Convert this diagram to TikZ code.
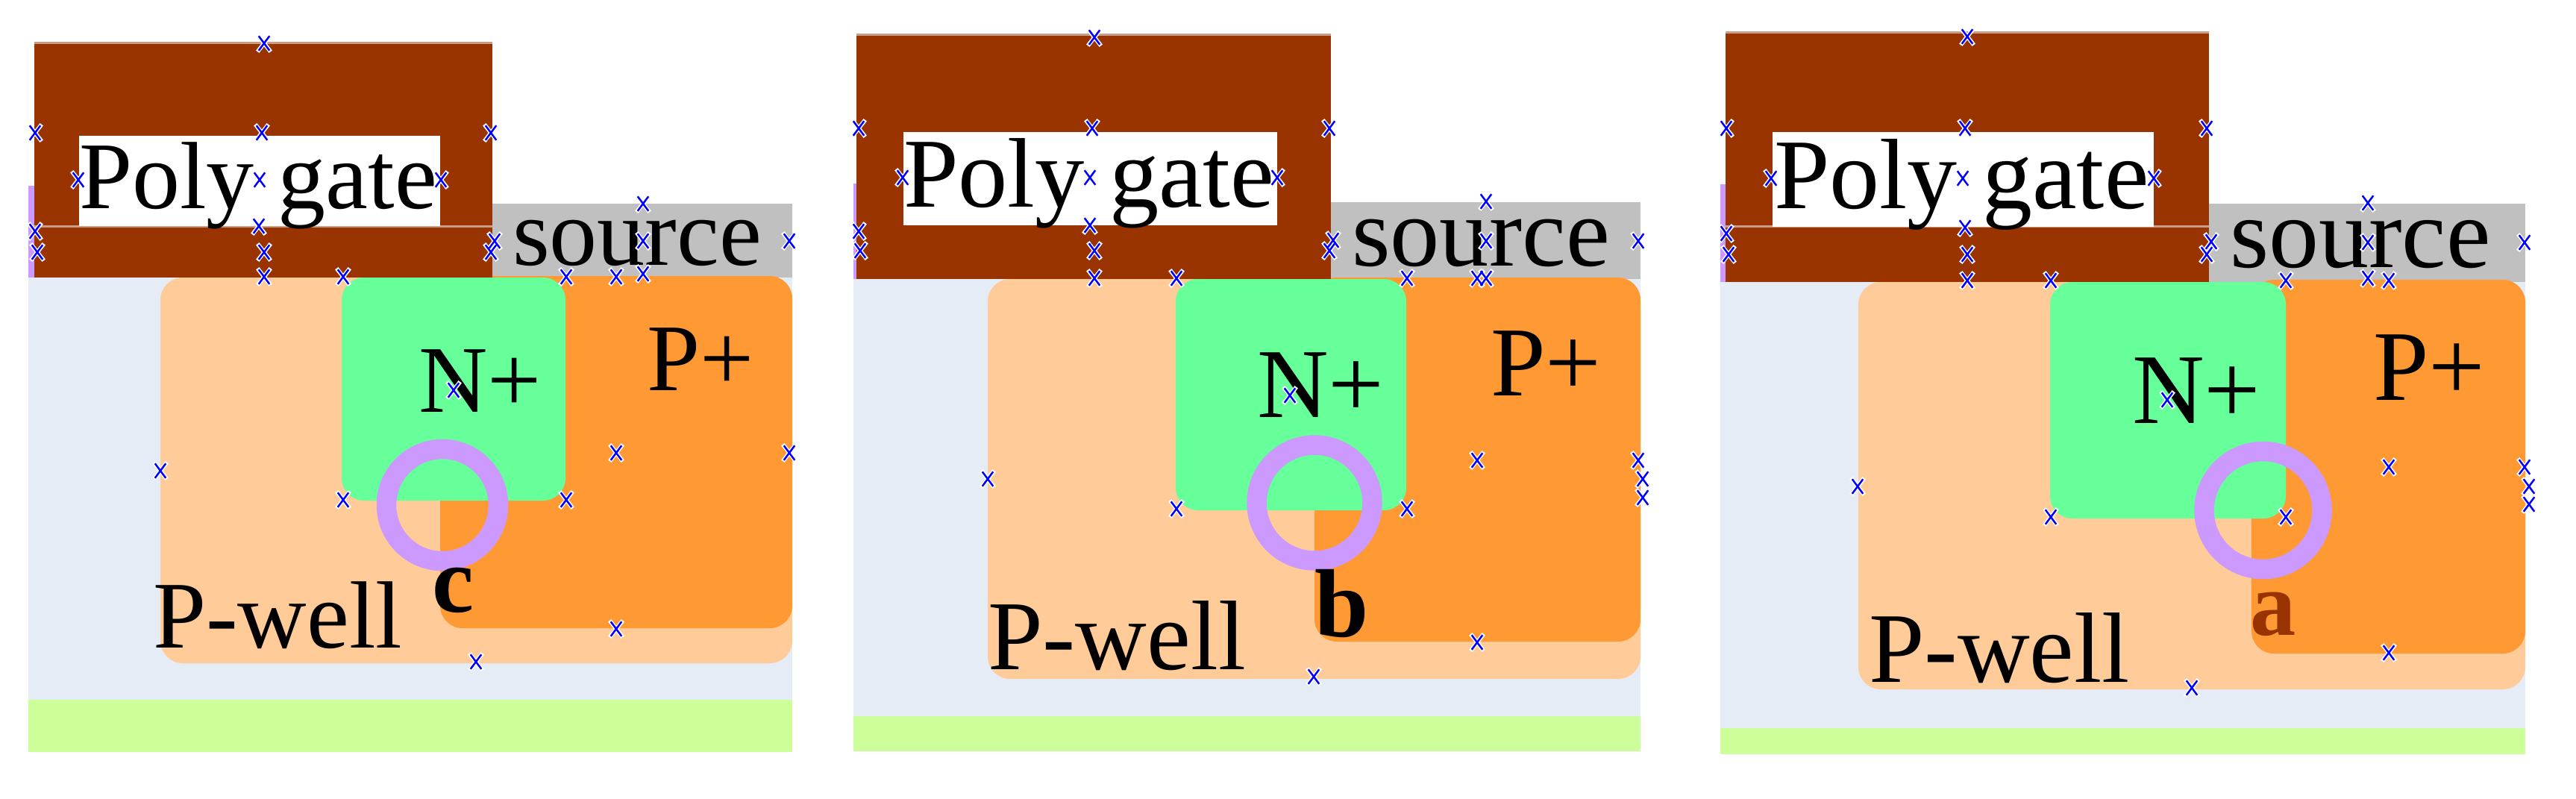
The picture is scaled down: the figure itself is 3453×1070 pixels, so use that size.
\documentclass[tikz,border=0pt]{standalone}
\usepackage{fontspec}
\setmainfont{Liberation Serif}
\usetikzlibrary{shapes.misc}
\definecolor{gatecol}{HTML}{993300}
\definecolor{gateedge}{HTML}{C89E88}
\definecolor{srccol}{HTML}{C0C0C0}
\definecolor{subcol}{HTML}{E6ECF6}
\definecolor{barcol}{HTML}{CCFF99}
\definecolor{wellcol}{HTML}{FFCC99}
\definecolor{pluscol}{HTML}{FF9933}
\definecolor{ncol}{HTML}{66FF99}
\definecolor{ringcol}{HTML}{CC99FF}
\tikzset{
  well/.style={rounded corners=6pt},
  ringmark/.style={draw=ringcol, line width=5.3pt},
  gateline/.style={draw=gateedge, line width=0.6pt},
  lbl/.style={anchor=base west, inner sep=0pt, outer sep=0pt},
  lblc/.style={lbl, font=\fontsize{25.6}{30}\selectfont},
  lblb/.style={lbl, font=\fontsize{26.5}{31}\selectfont},
  lbla/.style={lbl, font=\fontsize{26.8}{32}\selectfont},
  handlebg/.style={cross out, draw=white, line width=1.1pt, minimum width=2.4pt, minimum height=3.4pt, inner sep=0pt},
  handle/.style={cross out, draw=blue, line width=0.5pt, minimum width=2.4pt, minimum height=3.4pt, inner sep=0pt}
}

\begin{document}
\begin{tikzpicture}[x=0.2pt,y=-0.2pt]
\useasboundingbox (0,0) rectangle (3453,1070);

% panel c
\fill[subcol] (38,372) rectangle (1062,938);
\fill[barcol] (38,938) rectangle (1062,1008);
\fill[ringcol] (38,249) rectangle (46,372);
\fill[srccol] (660,273) rectangle (1062,372);
\fill[wellcol, well] (215,372) rectangle (1062,889);
\fill[pluscol, well] (590,370) rectangle (1062,842);
\fill[ncol, well] (458,372) rectangle (758,671);
\fill[gatecol] (46,57) rectangle (660,372);
\draw[gateline] (46,57) -- (660,57);
\draw[gateline] (46,303) -- (660,303);
\fill[white] (106,182) rectangle (590,303);
\draw[ringmark] (593,677) circle (75);
\node[lblc] (polyC) at (106,279) {Poly gate};
\node[lblc] (srcC) at (687,355) {source};
\node[lblc] (nplusC) at (561,552) {N+};
\node[lblc] (pplusC) at (867,523) {P+};
\node[lblc] (pwellC) at (205,868) {P-well};
\node[lblc, font=\fontsize{25.2}{30}\selectfont\bfseries] (tagC) at (579,820) {c};

% panel b
\fill[subcol] (1144,374) rectangle (2199,960);
\fill[barcol] (1144,960) rectangle (2199,1007);
\fill[ringcol] (1144,246) rectangle (1148,374);
\fill[srccol] (1784,271) rectangle (2199,374);
\fill[wellcol, well] (1324,374) rectangle (2199,910);
\fill[pluscol, well] (1762,372) rectangle (2199,860);
\fill[ncol, well] (1576,374) rectangle (1885,684);
\fill[gatecol] (1148,46) rectangle (1784,374);
\draw[gateline] (1148,46) -- (1784,46);
\fill[white] (1211,177) rectangle (1712,302);
\draw[ringmark] (1762,674) circle (77.5);
\node[lblb] (polyB) at (1211,277) {Poly gate};
\node[lblb] (srcB) at (1812,356) {source};
\node[lblb] (nplusB) at (1685,559) {N+};
\node[lblb] (pplusB) at (1998,530) {P+};
\node[lblb] (pwellB) at (1324,897) {P-well};
\node[lblb, font=\fontsize{26}{31}\selectfont\bfseries] (tagB) at (1762,853) {b};

% panel a
\fill[subcol] (2306,378) rectangle (3385,976);
\fill[barcol] (2306,976) rectangle (3385,1011);
\fill[ringcol] (2306,247) rectangle (2313,378);
\fill[srccol] (2961,273) rectangle (3385,378);
\fill[wellcol, well] (2491,378) rectangle (3385,924);
\fill[pluscol, well] (3018,375) rectangle (3385,876);
\fill[ncol, well] (2748,378) rectangle (3064,695);
\fill[gatecol] (2313,42) rectangle (2961,378);
\draw[gateline] (2313,43) -- (2961,43);
\draw[gateline] (2313,303) -- (2961,303);
\fill[white] (2376,177) rectangle (2887,304);
\draw[ringmark] (3033.5,684) circle (79);
\node[lbla] (polyA) at (2378,279) {Poly gate};
\node[lbla] (srcA) at (2989,358) {source};
\node[lbla] (nplusA) at (2858,567) {N+};
\node[lbla] (pplusA) at (3181,536) {P+};
\node[lbla] (pwellA) at (2505,914) {P-well};
\node[lbla, font=\fontsize{24.5}{32}\selectfont\bfseries, text=gatecol] (tagA) at (3016,851) {a};

% resize handles
\foreach \mx/\my [count=\i] in {354/58,47/178,351/178,658/178,105/241,348/241,591/241,47/310,347/303,50/338,354/338,658/338,663/323,354/371,460/371,759/371,826/371,862/367,862/273,862/323,1058/323,608/523,215/631,460/670,759/670,826/607,1058/607,826/843,638/887,
1467/50,1151/172,1464/172,1782/172,1210/238,1461/238,1712/238,1151/310,1461/302,1153/336,1467/336,1782/336,1787/322,1467/373,1577/373,1886/373,1980/373,1992/270,1992/323,2196/323,1992/373,1729/530,1324/642,1577/682,1886/682,1980/617,2196/617,1980/861,1761/907,2202/642,2202/667,
2637/49,2314/172,2634/172,2958/172,2374/239,2631/239,2887/239,2314/313,2634/305,2317/341,2637/341,2958/341,2964/324,2637/376,2749/376,3064/376,3174/373,3202/376,3174/272,3174/325,3384/325,2905/536,2490/652,2749/693,3064/693,3202/626,3384/626,3202/875,2938/922,3390/652,3390/676}
  \node[handlebg] (hb\i) at (\mx,\my) {};
\foreach \mx/\my [count=\i] in {354/58,47/178,351/178,658/178,105/241,348/241,591/241,47/310,347/303,50/338,354/338,658/338,663/323,354/371,460/371,759/371,826/371,862/367,862/273,862/323,1058/323,608/523,215/631,460/670,759/670,826/607,1058/607,826/843,638/887,
1467/50,1151/172,1464/172,1782/172,1210/238,1461/238,1712/238,1151/310,1461/302,1153/336,1467/336,1782/336,1787/322,1467/373,1577/373,1886/373,1980/373,1992/270,1992/323,2196/323,1992/373,1729/530,1324/642,1577/682,1886/682,1980/617,2196/617,1980/861,1761/907,2202/642,2202/667,
2637/49,2314/172,2634/172,2958/172,2374/239,2631/239,2887/239,2314/313,2634/305,2317/341,2637/341,2958/341,2964/324,2637/376,2749/376,3064/376,3174/373,3202/376,3174/272,3174/325,3384/325,2905/536,2490/652,2749/693,3064/693,3202/626,3384/626,3202/875,2938/922,3390/652,3390/676}
  \node[handle] (h\i) at (\mx,\my) {};
\end{tikzpicture}
\end{document}
